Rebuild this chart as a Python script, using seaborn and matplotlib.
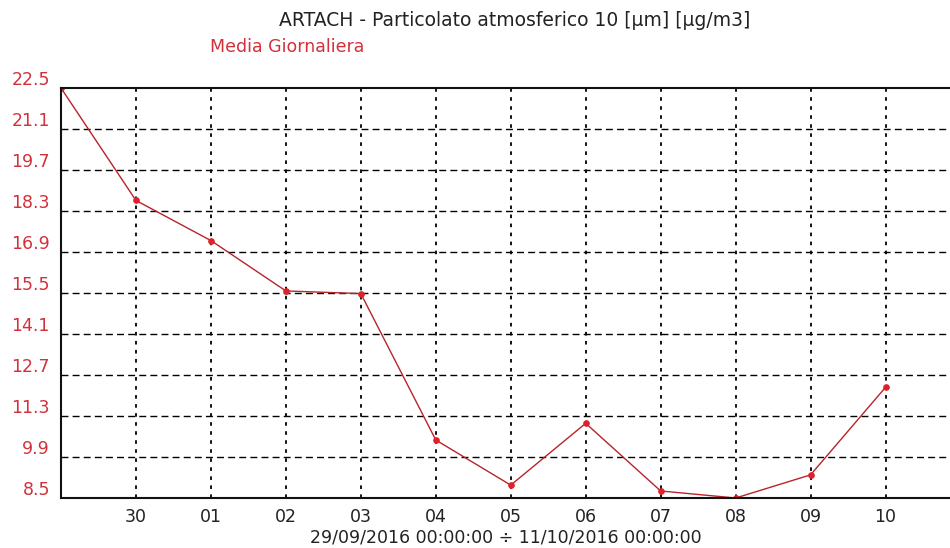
import pandas as pd
import numpy as np
import matplotlib
matplotlib.use('Agg')
import matplotlib.pyplot as plt
import matplotlib.dates as mdates
import matplotlib.transforms as mtransforms
import seaborn as sns

# Daily means (Media Giornaliera), PM10
dates = ['2016-09-29', '2016-09-30', '2016-10-01', '2016-10-02', '2016-10-03', '2016-10-04',
         '2016-10-05', '2016-10-06', '2016-10-07', '2016-10-08', '2016-10-09', '2016-10-10']
values = [22.5, 18.66, 17.29, 15.57, 15.48, 10.48, 8.94, 11.05, 8.74, 8.50, 9.29, 12.28]
ytick_values = [8.5, 9.9, 11.3, 12.7, 14.1, 15.5, 16.9, 18.3, 19.7, 21.1, 22.5]
xtick_dates = dates[1:]

title = 'ARTACH - Particolato atmosferico 10 [µm] [µg/m3]'
series_label = 'Media Giornaliera'
xlabel = '29/09/2016 00:00:00 ÷ 11/10/2016 00:00:00'

df = pd.DataFrame({'date': pd.to_datetime(dates), 'value': values})

sns.set_style('white')
plt.rcParams['font.family'] = ['DejaVu Sans']

red_line = '#b8242b'
red_text = '#d2313c'

fig = plt.figure(figsize=(9.5, 5.48), dpi=100)
ax = fig.add_axes([61 / 950, 50 / 548, 1 - 61 / 950, 410 / 548])

sns.lineplot(data=df, x='date', y='value', ax=ax, color=red_line, linewidth=1.0,
             marker='o', markersize=4, markerfacecolor='#e0202a', markeredgecolor='#e0202a')

start = pd.Timestamp(dates[0])
ax.set_xlim(start, start + pd.Timedelta(days=11.86))
ax.set_ylim(ytick_values[0], ytick_values[-1])

ax.set_xticks(pd.to_datetime(xtick_dates))
ax.xaxis.set_major_formatter(mdates.DateFormatter('%d'))
ax.set_yticks(ytick_values)
ax.set_yticklabels([f'{v:.1f}' for v in ytick_values])

ax.tick_params(axis='both', length=0, labelsize=12.5)
ax.tick_params(axis='x', pad=7, colors='#222222')
ax.tick_params(axis='y', pad=8, labelcolor=red_text)

# y labels sit a little above their grid lines
offset = mtransforms.ScaledTranslation(0, 10 / 100, fig.dpi_scale_trans)
for lab in ax.get_yticklabels():
    lab.set_transform(lab.get_transform() + offset)

ax.grid(False)
for v in ytick_values[1:-1]:
    ax.axhline(v, color='black', linewidth=1.0, linestyle=(0, (5, 3)), zorder=0)
for d in pd.to_datetime(xtick_dates):
    ax.axvline(d, color='black', linewidth=1.3, linestyle=(0, (2, 3)), zorder=0)

for side in ['left', 'bottom', 'top']:
    ax.spines[side].set_visible(True)
    ax.spines[side].set_color('#111111')
    ax.spines[side].set_linewidth(1.5)
ax.spines['right'].set_visible(False)

ax.set_xlabel(xlabel, fontsize=12.5, color='#222222', labelpad=2)
ax.set_ylabel('')

fig.text(515 / 950, 1 - 21 / 548, title, ha='center', va='center', fontsize=13.5, color='#222222')
fig.text(287 / 950, 1 - 47 / 548, series_label, ha='center', va='center', fontsize=12.5, color=red_text)

fig.savefig('out.png', dpi=100)
